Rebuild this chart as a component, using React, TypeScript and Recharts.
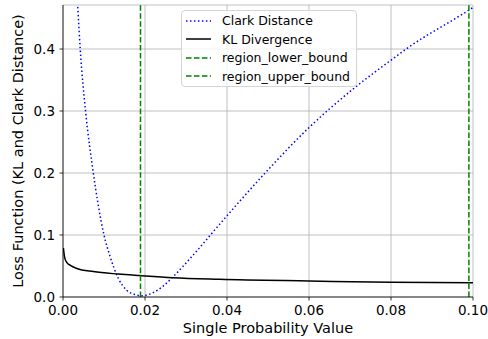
import { LineChart, Line, XAxis, YAxis, CartesianGrid, ReferenceLine, Legend } from 'recharts';

// clark distance (x = probability, y = loss)
const clarkData = [
    { x: 0.0036, y: 0.468 },
    { x: 0.0042, y: 0.40 },
    { x: 0.0055, y: 0.30 },
    { x: 0.0074, y: 0.20 },
    { x: 0.0085, y: 0.152 },
    { x: 0.0100, y: 0.10 },
    { x: 0.0115, y: 0.065 },
    { x: 0.0135, y: 0.030 },
    { x: 0.0155, y: 0.011 },
    { x: 0.0175, y: 0.004 },
    { x: 0.0192, y: 0.002 },
    { x: 0.0220, y: 0.007 },
    { x: 0.0245, y: 0.018 },
    { x: 0.0269, y: 0.033 },
    { x: 0.0318, y: 0.068 },
    { x: 0.0379, y: 0.115 },
    { x: 0.0493, y: 0.20 },
    { x: 0.0598, y: 0.272 },
    { x: 0.0651, y: 0.304 },
    { x: 0.0716, y: 0.340 },
    { x: 0.0802, y: 0.383 },
    { x: 0.0837, y: 0.40 },
    { x: 0.0993, y: 0.464 },
    { x: 0.1, y: 0.467 },
];

const klData = [
    { x: 0.0001, y: 0.079 },
    { x: 0.0004, y: 0.064 },
    { x: 0.0009, y: 0.056 },
    { x: 0.0018, y: 0.051 },
    { x: 0.0034, y: 0.046 },
    { x: 0.0074, y: 0.041 },
    { x: 0.0135, y: 0.037 },
    { x: 0.0187, y: 0.0345 },
    { x: 0.0268, y: 0.031 },
    { x: 0.0382, y: 0.0285 },
    { x: 0.06, y: 0.0258 },
    { x: 0.08, y: 0.0237 },
    { x: 0.1, y: 0.023 },
];

const lowerBound = 0.0189;
const upperBound = 0.099;

const xTicks = [0, 0.02, 0.04, 0.06, 0.08, 0.1];
const yTicks = [0, 0.1, 0.2, 0.3, 0.4];

const legendItems = [
    { name: 'Clark Distance', color: '#0000ff', dash: '1.5 2.475' },
    { name: 'KL Divergence', color: '#000000', dash: '' },
    { name: 'region_lower_bound', color: '#008000', dash: '5.55 2.4' },
    { name: 'region_upper_bound', color: '#008000', dash: '5.55 2.4' },
];

const font = '"DejaVu Sans", sans-serif';

function LegendBox() {
    return (
        <div style={{
            border: '1px solid #d5d5d5', borderRadius: 4, background: 'rgba(255,255,255,0.8)',
            padding: '0.5px 6px 0.5px 4px', fontFamily: font, fontSize: 12.5, color: '#000',
        }}>
            {legendItems.map((item) => (
                <div key={item.name} style={{ display: 'flex', alignItems: 'center', height: 18.5 }}>
                    <svg width={25} height={6} style={{ marginRight: 11 }}>
                        <line x1={0} y1={3} x2={25} y2={3} stroke={item.color} strokeWidth={1.5} strokeDasharray={item.dash} />
                    </svg>
                    <span style={{ whiteSpace: 'nowrap' }}>{item.name}</span>
                </div>
            ))}
        </div>
    );
}

export default function App() {
    return (
        <div style={{ position: 'absolute', left: 0, top: 0, width: 488, height: 339, background: '#fff' }}>
            <LineChart width={488} height={339} margin={{ top: 5, right: 15, left: 0, bottom: 0 }}>
                <CartesianGrid stroke="#b0b0b0" strokeWidth={0.8} />
                <XAxis
                    type="number"
                    dataKey="x"
                    domain={[0, 0.1]}
                    ticks={xTicks}
                    allowDataOverflow
                    tickFormatter={(v: number) => v.toFixed(2)}
                    height={42}
                    tickSize={3.5}
                    tickMargin={5}
                    axisLine={{ stroke: '#000', strokeWidth: 0.8 }}
                    tickLine={{ stroke: '#000', strokeWidth: 0.8 }}
                    tick={{ fill: '#000', fontSize: 13.5, fontFamily: font }}
                    label={{ value: 'Single Probability Value', position: 'insideBottom', offset: 6, fill: '#000', fontSize: 14.5, fontFamily: font }}
                />
                <YAxis
                    type="number"
                    dataKey="y"
                    domain={[0, 0.471]}
                    ticks={yTicks}
                    allowDataOverflow
                    tickFormatter={(v: number) => v.toFixed(1)}
                    width={63}
                    tickSize={3.5}
                    tickMargin={4.5}
                    axisLine={{ stroke: '#000', strokeWidth: 0.8 }}
                    tickLine={{ stroke: '#000', strokeWidth: 0.8 }}
                    tick={{ fill: '#000', fontSize: 13.5, fontFamily: font }}
                    label={{ value: 'Loss Function (KL and Clark Distance)', angle: -90, position: 'insideLeft', offset: 18, fill: '#000', fontSize: 14.5, fontFamily: font, style: { textAnchor: 'middle' } }}
                />
                <Line data={clarkData} dataKey="y" type="monotone" stroke="#0000ff" strokeWidth={1.5} strokeDasharray="1.5 2.475" dot={false} isAnimationActive={false} />
                <Line data={klData} dataKey="y" type="monotone" stroke="#000000" strokeWidth={1.5} dot={false} isAnimationActive={false} />
                <ReferenceLine x={lowerBound} stroke="#008000" strokeWidth={1.5} strokeDasharray="5.55 2.4" />
                <ReferenceLine x={upperBound} stroke="#008000" strokeWidth={1.5} strokeDasharray="5.55 2.4" />
                <Legend
                    layout="vertical"
                    align="center"
                    verticalAlign="middle"
                    wrapperStyle={{ left: 181, top: 10, width: 'auto' }}
                    content={() => <LegendBox />}
                />
            </LineChart>
        </div>
    );
}
